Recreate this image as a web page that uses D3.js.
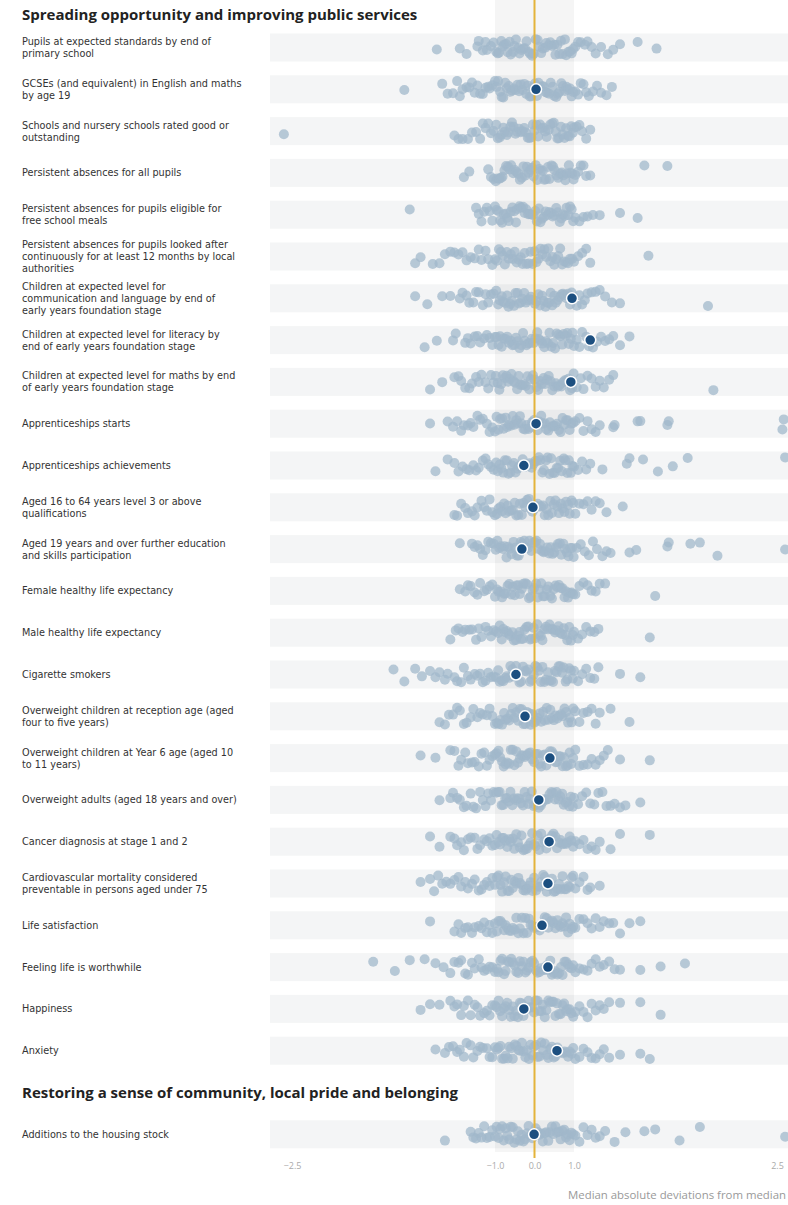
<!DOCTYPE html>
<html><head><meta charset="utf-8">
<script src="https://cdn.jsdelivr.net/npm/d3@7"></script>
<style>body{margin:0;background:#fff}svg{display:block;font-family:'Open Sans',sans-serif}</style>
</head><body><svg id="c" width="788" height="1205"></svg>
<script>
const sectionTitles = ["Spreading opportunity and improving public services","Restoring a sense of community, local pride and belonging"];
const rowLabels = [
"Pupils at expected standards by end of\nprimary school",
"GCSEs (and equivalent) in English and maths\nby age 19",
"Schools and nursery schools rated good or\noutstanding",
"Persistent absences for all pupils",
"Persistent absences for pupils eligible for\nfree school meals",
"Persistent absences for pupils looked after\ncontinuously for at least 12 months by local\nauthorities",
"Children at expected level for\ncommunication and language by end of\nearly years foundation stage",
"Children at expected level for literacy by\nend of early years foundation stage",
"Children at expected level for maths by end\nof early years foundation stage",
"Apprenticeships starts",
"Apprenticeships achievements",
"Aged 16 to 64 years level 3 or above\nqualifications",
"Aged 19 years and over further education\nand skills participation",
"Female healthy life expectancy",
"Male healthy life expectancy",
"Cigarette smokers",
"Overweight children at reception age (aged\nfour to five years)",
"Overweight children at Year 6 age (aged 10\nto 11 years)",
"Overweight adults (aged 18 years and over)",
"Cancer diagnosis at stage 1 and 2",
"Cardiovascular mortality considered\npreventable in persons aged under 75",
"Life satisfaction",
"Feeling life is worthwhile",
"Happiness",
"Anxiety",
"Additions to the housing stock"
];
const rowSection = [0,0,0,0,0,0,0,0,0,0,0,0,0,0,0,0,0,0,0,0,0,0,0,0,0,1];
const medianValues = [null,0.04,null,null,null,null,0.95,1.12,0.92,0.04,-0.27,-0.04,-0.32,null,null,-0.47,-0.24,0.39,0.11,0.37,0.34,0.19,0.34,-0.27,0.57,-0.01];
const tickValues = [-2.5,-1,0,1,2.5];
const axisTitle = "Median absolute deviations from median";
const areaValues = [
[-1.43,-1.26,-1.21,-1.13,-1.12,-1.09,-1.07,-1.06,-1.03,-1.01,-0.97,-0.93,-0.9,-0.84,-0.81,-0.77,-0.72,-0.68,-0.63,-0.6,-0.54,-0.51,-0.47,-0.41,-0.38,-0.33,-0.28,-0.24,-0.2,-0.14,-0.11,-0.06,-0.02,0.03,0.08,0.12,0.17,0.21,0.27,0.3,0.36,0.4,0.44,0.5,0.53,0.58,0.63,0.67,0.71,0.77,0.8,0.86,0.9,0.94,0.98,1.01,1.03,1.05,1.08,1.1,1.13,1.16,1.2,1.25,1.29,1.34,1.47,1.61],
[-1.67,-1.39,-1.35,-1.31,-1.28,-1.26,-1.24,-1.21,-1.19,-1.17,-1.15,-1.13,-1.11,-1.09,-1.07,-1.05,-1.04,-1.02,-1.0,-0.96,-0.92,-0.87,-0.83,-0.79,-0.74,-0.7,-0.65,-0.61,-0.57,-0.52,-0.48,-0.43,-0.39,-0.35,-0.3,-0.26,-0.21,-0.17,-0.12,-0.08,-0.04,0.01,0.06,0.1,0.14,0.19,0.23,0.28,0.32,0.37,0.41,0.46,0.5,0.55,0.59,0.63,0.68,0.72,0.77,0.81,0.85,0.9,0.94,0.98,1.01,1.03,1.05,1.07,1.09,1.11,1.14,1.17,1.2,1.24,1.28],
[-2.56,-1.3,-1.27,-1.24,-1.2,-1.17,-1.14,-1.11,-1.09,-1.07,-1.05,-1.03,-1.01,-0.97,-0.93,-0.88,-0.84,-0.79,-0.75,-0.7,-0.66,-0.61,-0.57,-0.53,-0.48,-0.44,-0.39,-0.35,-0.3,-0.26,-0.22,-0.17,-0.13,-0.08,-0.04,0.0,0.05,0.09,0.14,0.18,0.23,0.27,0.31,0.36,0.4,0.45,0.49,0.54,0.58,0.62,0.67,0.71,0.76,0.8,0.85,0.89,0.93,0.97,1.0,1.02,1.04,1.06,1.09,1.12],
[-1.23,-1.19,-1.05,-1.03,-1.01,-0.98,-0.94,-0.89,-0.85,-0.81,-0.76,-0.72,-0.67,-0.63,-0.59,-0.54,-0.5,-0.46,-0.41,-0.37,-0.32,-0.28,-0.24,-0.19,-0.15,-0.1,-0.06,-0.02,0.03,0.07,0.12,0.16,0.21,0.25,0.29,0.34,0.38,0.43,0.47,0.51,0.56,0.6,0.65,0.69,0.73,0.78,0.82,0.87,0.91,0.95,0.99,1.01,1.03,1.05,1.07,1.09,1.12,1.52,1.69],
[-1.63,-1.14,-1.12,-1.1,-1.08,-1.06,-1.04,-1.02,-1.0,-0.96,-0.91,-0.87,-0.82,-0.78,-0.73,-0.69,-0.65,-0.6,-0.56,-0.51,-0.47,-0.43,-0.38,-0.34,-0.29,-0.25,-0.21,-0.16,-0.12,-0.07,-0.03,0.02,0.06,0.11,0.15,0.19,0.24,0.28,0.33,0.37,0.42,0.46,0.5,0.55,0.59,0.64,0.68,0.72,0.77,0.81,0.86,0.9,0.94,0.98,1.01,1.04,1.07,1.1,1.14,1.19,1.34,1.47],
[-1.59,-1.55,-1.46,-1.41,-1.37,-1.33,-1.3,-1.27,-1.24,-1.21,-1.18,-1.15,-1.12,-1.1,-1.07,-1.05,-1.02,-1.0,-0.95,-0.9,-0.85,-0.8,-0.75,-0.7,-0.65,-0.6,-0.55,-0.5,-0.45,-0.4,-0.35,-0.3,-0.25,-0.2,-0.15,-0.1,-0.05,0.0,0.05,0.1,0.15,0.2,0.25,0.3,0.35,0.4,0.45,0.5,0.55,0.6,0.65,0.7,0.75,0.8,0.85,0.9,0.95,1.0,1.03,1.06,1.09,1.12,1.55],
[-1.59,-1.5,-1.39,-1.33,-1.26,-1.24,-1.21,-1.19,-1.16,-1.14,-1.12,-1.09,-1.07,-1.05,-1.03,-1.01,-0.97,-0.92,-0.88,-0.83,-0.79,-0.74,-0.69,-0.66,-0.61,-0.57,-0.52,-0.48,-0.43,-0.39,-0.34,-0.31,-0.26,-0.22,-0.17,-0.12,-0.09,-0.04,0.01,0.05,0.1,0.14,0.19,0.23,0.28,0.33,0.36,0.41,0.45,0.5,0.54,0.59,0.63,0.68,0.72,0.76,0.81,0.85,0.9,0.94,0.99,1.02,1.04,1.06,1.08,1.1,1.13,1.16,1.19,1.23,1.28,1.34,1.99],
[-1.52,-1.43,-1.31,-1.29,-1.22,-1.2,-1.18,-1.15,-1.13,-1.11,-1.08,-1.06,-1.04,-1.02,-1.0,-0.96,-0.91,-0.87,-0.83,-0.78,-0.73,-0.69,-0.65,-0.6,-0.56,-0.51,-0.47,-0.42,-0.38,-0.33,-0.29,-0.25,-0.2,-0.16,-0.11,-0.07,-0.02,0.02,0.07,0.11,0.16,0.2,0.25,0.29,0.34,0.38,0.43,0.47,0.52,0.56,0.61,0.65,0.7,0.74,0.79,0.83,0.87,0.92,0.96,1.0,1.02,1.04,1.06,1.09,1.11,1.14,1.17,1.2,1.23,1.26,1.29,1.34,1.41],
[-1.48,-1.39,-1.3,-1.27,-1.25,-1.22,-1.19,-1.17,-1.14,-1.12,-1.1,-1.07,-1.05,-1.03,-1.01,-0.98,-0.93,-0.89,-0.84,-0.8,-0.75,-0.71,-0.67,-0.62,-0.58,-0.53,-0.49,-0.44,-0.4,-0.36,-0.31,-0.27,-0.22,-0.18,-0.13,-0.09,-0.04,0.0,0.05,0.09,0.14,0.18,0.23,0.27,0.32,0.36,0.41,0.45,0.5,0.54,0.59,0.63,0.68,0.72,0.77,0.81,0.86,0.9,0.95,0.99,1.02,1.05,1.07,1.1,1.13,1.16,1.19,1.22,1.26,1.29,2.03],
[-1.48,-1.35,-1.31,-1.28,-1.25,-1.23,-1.2,-1.18,-1.16,-1.13,-1.11,-1.09,-1.06,-1.04,-1.02,-1.0,-0.96,-0.91,-0.87,-0.82,-0.78,-0.73,-0.69,-0.64,-0.6,-0.55,-0.51,-0.46,-0.42,-0.37,-0.33,-0.28,-0.24,-0.19,-0.15,-0.1,-0.06,-0.01,0.03,0.08,0.12,0.17,0.21,0.26,0.3,0.35,0.39,0.44,0.48,0.53,0.57,0.62,0.66,0.71,0.75,0.8,0.84,0.89,0.93,0.98,1.01,1.04,1.07,1.1,1.13,1.16,1.19,1.29,1.3,1.47,1.49,1.69,1.7,2.54,2.55],
[-1.44,-1.35,-1.3,-1.27,-1.24,-1.21,-1.19,-1.16,-1.14,-1.12,-1.09,-1.07,-1.05,-1.03,-1.01,-0.97,-0.93,-0.88,-0.84,-0.79,-0.75,-0.7,-0.66,-0.61,-0.57,-0.52,-0.48,-0.43,-0.39,-0.34,-0.3,-0.25,-0.21,-0.16,-0.12,-0.07,-0.03,0.02,0.06,0.11,0.15,0.2,0.24,0.29,0.33,0.38,0.42,0.47,0.51,0.56,0.6,0.65,0.69,0.74,0.78,0.83,0.87,0.92,0.96,1.0,1.03,1.06,1.09,1.12,1.21,1.39,1.41,1.51,1.62,1.73,1.84,2.56],
[-1.3,-1.28,-1.25,-1.22,-1.2,-1.17,-1.15,-1.13,-1.1,-1.08,-1.06,-1.04,-1.02,-1.0,-0.95,-0.91,-0.86,-0.82,-0.77,-0.73,-0.68,-0.64,-0.59,-0.55,-0.5,-0.46,-0.41,-0.37,-0.32,-0.28,-0.23,-0.19,-0.14,-0.1,-0.05,-0.01,0.04,0.08,0.13,0.17,0.22,0.26,0.31,0.35,0.4,0.44,0.49,0.53,0.58,0.62,0.67,0.71,0.76,0.8,0.85,0.89,0.94,0.98,1.01,1.04,1.07,1.1,1.13,1.16,1.19,1.24,1.36],
[-1.26,-1.17,-1.15,-1.13,-1.11,-1.09,-1.07,-1.05,-1.03,-1.01,-0.98,-0.94,-0.89,-0.85,-0.8,-0.76,-0.71,-0.67,-0.62,-0.58,-0.53,-0.49,-0.44,-0.4,-0.35,-0.31,-0.26,-0.22,-0.17,-0.13,-0.08,-0.04,0.01,0.05,0.1,0.14,0.19,0.23,0.28,0.32,0.37,0.41,0.46,0.5,0.55,0.59,0.64,0.68,0.73,0.77,0.82,0.86,0.91,0.95,0.99,1.02,1.05,1.08,1.11,1.14,1.17,1.21,1.24,1.27,1.41,1.46,1.69,1.7,1.86,1.93,2.06,2.56],
[-1.26,-1.22,-1.2,-1.18,-1.15,-1.13,-1.11,-1.08,-1.06,-1.04,-1.02,-1.0,-0.95,-0.91,-0.86,-0.82,-0.77,-0.73,-0.68,-0.64,-0.59,-0.55,-0.5,-0.46,-0.41,-0.37,-0.32,-0.28,-0.23,-0.19,-0.14,-0.1,-0.05,-0.01,0.04,0.08,0.13,0.17,0.22,0.26,0.31,0.35,0.4,0.44,0.49,0.53,0.58,0.62,0.67,0.71,0.76,0.8,0.85,0.89,0.94,0.98,1.01,1.04,1.07,1.1,1.13,1.16,1.19,1.23,1.6],
[-1.33,-1.29,-1.27,-1.24,-1.22,-1.19,-1.17,-1.14,-1.12,-1.1,-1.07,-1.05,-1.03,-1.01,-0.97,-0.92,-0.88,-0.83,-0.79,-0.74,-0.7,-0.65,-0.61,-0.56,-0.52,-0.47,-0.43,-0.38,-0.34,-0.29,-0.25,-0.2,-0.16,-0.11,-0.07,-0.02,0.02,0.07,0.11,0.16,0.2,0.25,0.29,0.34,0.38,0.43,0.47,0.52,0.56,0.61,0.65,0.7,0.74,0.79,0.83,0.88,0.92,0.97,1.0,1.03,1.06,1.09,1.12,1.15,1.18,1.56],
[-1.75,-1.67,-1.59,-1.54,-1.48,-1.44,-1.41,-1.37,-1.35,-1.3,-1.28,-1.25,-1.23,-1.2,-1.18,-1.15,-1.13,-1.11,-1.09,-1.07,-1.05,-1.03,-1.01,-0.97,-0.92,-0.88,-0.83,-0.79,-0.74,-0.7,-0.65,-0.61,-0.56,-0.52,-0.47,-0.43,-0.38,-0.34,-0.29,-0.25,-0.2,-0.16,-0.11,-0.07,-0.02,0.02,0.07,0.11,0.16,0.2,0.25,0.29,0.34,0.38,0.43,0.47,0.52,0.56,0.61,0.65,0.7,0.74,0.79,0.83,0.88,0.92,0.97,1.0,1.03,1.06,1.09,1.12,1.15,1.18,1.34,1.49],
[-1.41,-1.37,-1.34,-1.31,-1.28,-1.26,-1.23,-1.21,-1.18,-1.16,-1.13,-1.11,-1.09,-1.06,-1.04,-1.02,-1.0,-0.95,-0.91,-0.86,-0.82,-0.77,-0.73,-0.68,-0.64,-0.59,-0.55,-0.5,-0.46,-0.41,-0.37,-0.32,-0.28,-0.23,-0.19,-0.14,-0.1,-0.05,-0.01,0.04,0.08,0.13,0.17,0.22,0.26,0.31,0.35,0.4,0.44,0.49,0.53,0.58,0.62,0.67,0.71,0.76,0.8,0.85,0.89,0.94,0.98,1.01,1.04,1.07,1.1,1.13,1.16,1.19,1.27,1.41],
[-1.55,-1.44,-1.33,-1.3,-1.27,-1.25,-1.22,-1.2,-1.17,-1.15,-1.12,-1.1,-1.08,-1.06,-1.04,-1.02,-1.0,-0.96,-0.91,-0.87,-0.82,-0.78,-0.73,-0.69,-0.64,-0.6,-0.55,-0.51,-0.46,-0.42,-0.37,-0.33,-0.28,-0.24,-0.19,-0.15,-0.1,-0.06,-0.01,0.03,0.08,0.12,0.17,0.21,0.26,0.3,0.35,0.39,0.44,0.48,0.53,0.57,0.62,0.66,0.71,0.75,0.8,0.84,0.89,0.93,0.98,1.01,1.04,1.07,1.1,1.13,1.16,1.19,1.22,1.25,1.34,1.56],
[-1.41,-1.33,-1.31,-1.28,-1.26,-1.23,-1.21,-1.18,-1.16,-1.14,-1.11,-1.09,-1.07,-1.05,-1.03,-1.01,-0.97,-0.92,-0.88,-0.83,-0.79,-0.74,-0.7,-0.65,-0.61,-0.56,-0.52,-0.47,-0.43,-0.38,-0.34,-0.29,-0.25,-0.2,-0.16,-0.11,-0.07,-0.02,0.02,0.07,0.11,0.16,0.2,0.25,0.29,0.34,0.38,0.43,0.47,0.52,0.56,0.61,0.65,0.7,0.74,0.79,0.83,0.88,0.92,0.97,1.0,1.03,1.06,1.09,1.12,1.15,1.18,1.21,1.24,1.27,1.3,1.34,1.38,1.49],
[-1.48,-1.41,-1.33,-1.3,-1.28,-1.25,-1.23,-1.2,-1.18,-1.15,-1.13,-1.11,-1.08,-1.06,-1.04,-1.02,-1.0,-0.96,-0.91,-0.87,-0.82,-0.78,-0.73,-0.69,-0.64,-0.6,-0.55,-0.51,-0.46,-0.42,-0.37,-0.33,-0.28,-0.24,-0.19,-0.15,-0.1,-0.06,-0.01,0.03,0.08,0.12,0.17,0.21,0.26,0.3,0.35,0.39,0.44,0.48,0.53,0.57,0.62,0.66,0.71,0.75,0.8,0.84,0.89,0.93,0.98,1.01,1.04,1.07,1.1,1.13,1.16,1.19,1.27,1.34,1.56],
[-1.55,-1.48,-1.45,-1.42,-1.39,-1.36,-1.33,-1.3,-1.27,-1.25,-1.22,-1.2,-1.17,-1.15,-1.12,-1.1,-1.08,-1.06,-1.04,-1.02,-1.0,-0.95,-0.91,-0.86,-0.82,-0.77,-0.73,-0.68,-0.64,-0.59,-0.55,-0.5,-0.46,-0.41,-0.37,-0.32,-0.28,-0.23,-0.19,-0.14,-0.1,-0.05,-0.01,0.04,0.08,0.13,0.17,0.22,0.26,0.31,0.35,0.4,0.44,0.49,0.53,0.58,0.62,0.67,0.71,0.76,0.8,0.85,0.89,0.94,0.98,1.01,1.04,1.07,1.1,1.12,1.19],
[-1.48,-1.3,-1.27,-1.25,-1.22,-1.2,-1.17,-1.15,-1.12,-1.1,-1.08,-1.06,-1.04,-1.02,-1.0,-0.95,-0.91,-0.86,-0.82,-0.77,-0.73,-0.68,-0.64,-0.59,-0.55,-0.5,-0.46,-0.41,-0.37,-0.32,-0.28,-0.23,-0.19,-0.14,-0.1,-0.05,-0.01,0.04,0.08,0.13,0.17,0.22,0.26,0.31,0.35,0.4,0.44,0.49,0.53,0.58,0.62,0.67,0.71,0.76,0.8,0.85,0.89,0.94,0.98,1.01,1.04,1.07,1.1,1.13,1.16,1.19,1.22,1.26,1.29,1.34,1.41,1.49],
[-1.9,-1.74,-1.63,-1.52,-1.44,-1.38,-1.33,-1.3,-1.27,-1.25,-1.22,-1.2,-1.17,-1.15,-1.12,-1.1,-1.08,-1.06,-1.04,-1.02,-1.0,-0.95,-0.91,-0.86,-0.82,-0.77,-0.73,-0.68,-0.64,-0.59,-0.55,-0.5,-0.46,-0.41,-0.37,-0.32,-0.28,-0.23,-0.19,-0.14,-0.1,-0.05,-0.01,0.04,0.08,0.13,0.17,0.22,0.26,0.31,0.35,0.4,0.44,0.49,0.53,0.58,0.62,0.67,0.71,0.76,0.8,0.85,0.89,0.94,0.98,1.01,1.04,1.07,1.1,1.13,1.16,1.19,1.22,1.26,1.3,1.34,1.49,1.64,1.82],
[-1.55,-1.48,-1.41,-1.33,-1.3,-1.28,-1.25,-1.23,-1.2,-1.18,-1.15,-1.13,-1.11,-1.08,-1.06,-1.04,-1.02,-1.0,-0.96,-0.91,-0.87,-0.82,-0.78,-0.73,-0.69,-0.64,-0.6,-0.55,-0.51,-0.46,-0.42,-0.37,-0.33,-0.28,-0.24,-0.19,-0.15,-0.1,-0.06,-0.01,0.03,0.08,0.12,0.17,0.21,0.26,0.3,0.35,0.39,0.44,0.48,0.53,0.57,0.62,0.66,0.71,0.75,0.8,0.84,0.89,0.93,0.98,1.01,1.04,1.07,1.1,1.13,1.16,1.19,1.22,1.26,1.34,1.49,1.64],
[-1.44,-1.37,-1.34,-1.31,-1.28,-1.26,-1.23,-1.21,-1.18,-1.16,-1.13,-1.11,-1.09,-1.06,-1.04,-1.02,-1.0,-0.95,-0.91,-0.86,-0.82,-0.77,-0.73,-0.68,-0.64,-0.59,-0.55,-0.5,-0.46,-0.41,-0.37,-0.32,-0.28,-0.23,-0.19,-0.14,-0.1,-0.05,-0.01,0.04,0.08,0.13,0.17,0.22,0.26,0.31,0.35,0.4,0.44,0.49,0.53,0.58,0.62,0.67,0.71,0.76,0.8,0.85,0.89,0.94,0.98,1.01,1.04,1.07,1.1,1.13,1.16,1.19,1.22,1.26,1.34,1.49,1.56],
[-1.37,-1.18,-1.16,-1.14,-1.12,-1.1,-1.08,-1.06,-1.04,-1.02,-1.0,-0.96,-0.91,-0.87,-0.82,-0.78,-0.73,-0.69,-0.64,-0.6,-0.55,-0.51,-0.46,-0.42,-0.37,-0.33,-0.28,-0.24,-0.19,-0.15,-0.1,-0.06,-0.01,0.03,0.08,0.12,0.17,0.21,0.26,0.3,0.35,0.39,0.44,0.48,0.53,0.57,0.62,0.66,0.71,0.75,0.8,0.84,0.89,0.93,0.98,1.01,1.04,1.07,1.1,1.13,1.16,1.19,1.23,1.3,1.38,1.52,1.6,1.78,1.93,2.56]
];

const W = 788, H = 1205;
const svg = d3.select("#c");
const x = d3.scaleLinear().domain([-2.5,-1,1,2.5]).range([292,495,574,777]);
const slotOf = rowLabels.map((d,i)=> i + rowSection[i]);
const y = d3.scaleBand().domain(d3.range(27)).range([26.6, 1155.2]);
const cy = i => y(slotOf[i]) + y.bandwidth()/2;
// deterministic vertical spread (layout only, integer hash)
const spread = (i, r) => {
  let h = Math.imul(i + 1, 2654435761) ^ Math.imul(r + 7, 40503);
  h ^= h >>> 15; h = Math.imul(h, 2246822519); h ^= h >>> 13;
  return ((h >>> 0) % 1000) / 1000 - 0.5;
};

svg.append("g").selectAll("rect").data(rowLabels).join("rect")
  .attr("x", 270).attr("width", W-270)
  .attr("y", (d,i)=>cy(i)-14).attr("height", 28)
  .attr("fill", "#f4f5f6");

svg.append("rect").attr("x", x(-1)).attr("width", x(1)-x(-1))
  .attr("y", 0).attr("height", 1152).attr("fill", "#000").attr("opacity", 0.04);

const pts = [];
areaValues.forEach((vals, r) => vals.forEach((v, i) => pts.push({v, r, j: spread(i, r)})));
svg.append("g").selectAll("circle").data(pts).join("circle")
  .attr("cx", d=>x(d.v)).attr("cy", d=>cy(d.r) + d.j*17)
  .attr("r", 5).attr("fill", "#a0b7cb").attr("opacity", 0.74);

svg.append("line").attr("x1", x(0)).attr("x2", x(0)).attr("y1", 0).attr("y2", 1158)
  .attr("stroke", "#e4b33a").attr("stroke-width", 2);

svg.append("g").selectAll("circle").data(medianValues.map((v,i)=>({v,i})).filter(d=>d.v!==null)).join("circle")
  .attr("cx", d=>x(d.v)).attr("cy", d=>cy(d.i))
  .attr("r", 5.5).attr("fill", "#1c4f80").attr("stroke", "#fff").attr("stroke-width", 1.5);

const lab = svg.append("g").attr("fill", "#333").attr("font-size", "9.7px").attr("font-family", "'DejaVu Sans',sans-serif");
rowLabels.forEach((t, i) => {
  const lines = t.split("\n");
  const txt = lab.append("text").attr("x", 22);
  lines.forEach((l, k) => {
    txt.append("tspan").attr("x", 22).attr("y", cy(i) - (lines.length-1)*6 + k*12 + 3.5).text(l);
  });
});

svg.append("text").attr("x", 22).attr("y", 20).attr("font-weight", "bold")
  .attr("font-size", "15px").attr("fill", "#222").text(sectionTitles[0]);
svg.append("text").attr("x", 22).attr("y", y(25) + y.bandwidth()/2 + 5).attr("font-weight", "bold")
  .attr("font-size", "15px").attr("fill", "#222").text(sectionTitles[1]);

const ax = svg.append("g").attr("transform", "translate(0,1158)")
  .call(d3.axisBottom(x).tickValues(tickValues).tickFormat(d3.format(".1f")).tickSize(0).tickPadding(5));
ax.select(".domain").remove();
ax.selectAll("text").attr("fill", "#aaa").attr("font-size", "9px").attr("font-family", "'Open Sans',sans-serif");

svg.append("text").attr("x", 786).attr("y", 1199).attr("text-anchor", "end").attr("font-size", "11.4px").attr("fill", "#999").text(axisTitle);
</script></body></html>
